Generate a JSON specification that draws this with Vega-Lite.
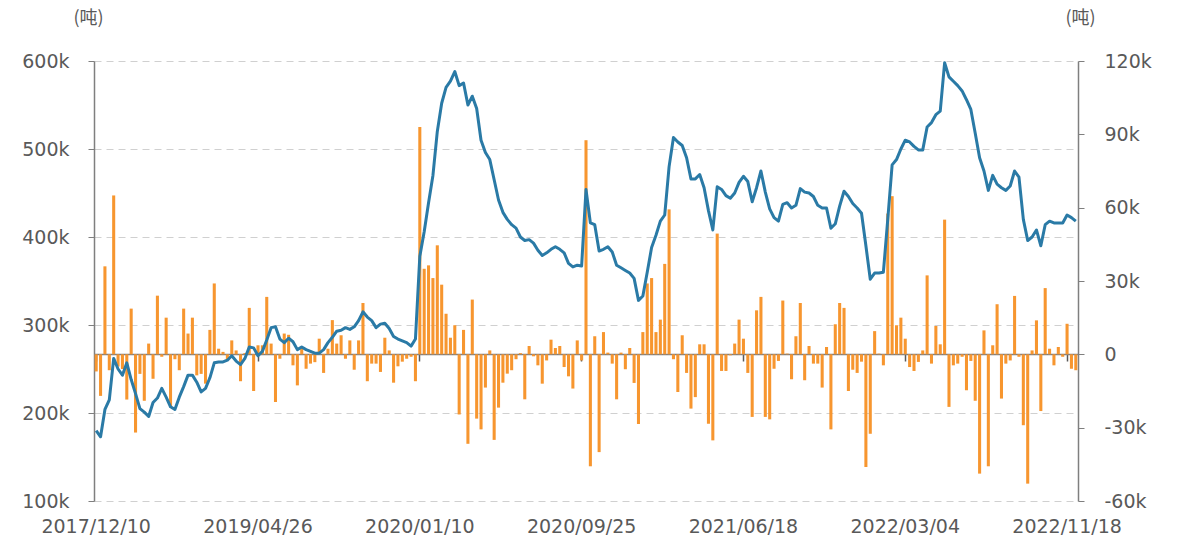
{
"$schema": "https://vega.github.io/schema/vega-lite/v6.json",
"width": 984, "height": 440,
"autosize": {"type": "none"},
"padding": {"left": 94, "top": 61, "right": 100, "bottom": 40},
"background": "white",
"config": {"view": {"stroke": null}, "font": "DejaVu Sans"},
"data": {"values": [
{"d":"2017/12/10","s":180000,"c":-7000},
{"d":"2017/12/24","s":173000,"c":-17000},
{"d":"2018/01/07","s":204000,"c":36000},
{"d":"2018/01/21","s":215000,"c":-6500},
{"d":"2018/02/04","s":262000,"c":65000},
{"d":"2018/02/18","s":250000,"c":-5000},
{"d":"2018/03/04","s":243000,"c":-6000},
{"d":"2018/03/18","s":257000,"c":-18500},
{"d":"2018/04/01","s":238000,"c":18700},
{"d":"2018/04/15","s":222000,"c":-32000},
{"d":"2018/04/29","s":205000,"c":-8000},
{"d":"2018/05/13","s":201000,"c":-19000},
{"d":"2018/05/27","s":196000,"c":4400},
{"d":"2018/06/10","s":212000,"c":-10000},
{"d":"2018/06/24","s":217000,"c":24000},
{"d":"2018/07/08","s":228000,"c":-1000},
{"d":"2018/07/22","s":218000,"c":15000},
{"d":"2018/08/05","s":207000,"c":-21500},
{"d":"2018/08/19","s":204000,"c":-2000},
{"d":"2018/09/02","s":218000,"c":-6500},
{"d":"2018/09/16","s":230000,"c":18700},
{"d":"2018/09/30","s":243000,"c":8500},
{"d":"2018/10/14","s":243000,"c":15000},
{"d":"2018/10/28","s":235000,"c":-8600},
{"d":"2018/11/11","s":224000,"c":-8000},
{"d":"2018/11/25","s":228000,"c":-12000},
{"d":"2018/12/09","s":240000,"c":10000},
{"d":"2018/12/23","s":257000,"c":29000},
{"d":"2019/01/06","s":258000,"c":2300},
{"d":"2019/01/20","s":258000,"c":1000},
{"d":"2019/02/03","s":260000,"c":-2000},
{"d":"2019/02/17","s":265000,"c":5700},
{"d":"2019/03/03","s":259000,"c":1600},
{"d":"2019/03/17","s":255000,"c":-11000},
{"d":"2019/03/31","s":262000,"c":500},
{"d":"2019/04/12","s":275000,"c":19000},
{"d":"2019/04/19","s":274000,"c":-15000},
{"d":"2019/04/26","s":265000,"c":3700},
{"d":"2019/05/03","s":270000,"c":3700},
{"d":"2019/05/10","s":283000,"c":23500},
{"d":"2019/05/17","s":297000,"c":4400},
{"d":"2019/05/24","s":298000,"c":-19500},
{"d":"2019/05/31","s":284000,"c":-1800},
{"d":"2019/06/07","s":280000,"c":8500},
{"d":"2019/06/14","s":285000,"c":8000},
{"d":"2019/06/21","s":281000,"c":-4500},
{"d":"2019/06/28","s":272000,"c":-12700},
{"d":"2019/07/05","s":275000,"c":3000},
{"d":"2019/07/12","s":272000,"c":-5900},
{"d":"2019/07/19","s":270000,"c":-3800},
{"d":"2019/07/26","s":268000,"c":-3200},
{"d":"2019/08/02","s":268000,"c":6400},
{"d":"2019/08/09","s":272000,"c":-7600},
{"d":"2019/08/16","s":280000,"c":2300},
{"d":"2019/08/23","s":286000,"c":14000},
{"d":"2019/08/30","s":293000,"c":4400},
{"d":"2019/09/06","s":294000,"c":7800},
{"d":"2019/09/13","s":297000,"c":-1800},
{"d":"2019/09/20","s":295000,"c":5700},
{"d":"2019/09/27","s":298000,"c":-6300},
{"d":"2019/10/04","s":305000,"c":5700},
{"d":"2019/10/11","s":315000,"c":21000},
{"d":"2019/10/18","s":309000,"c":-11000},
{"d":"2019/10/25","s":305000,"c":-3800},
{"d":"2019/11/01","s":297000,"c":-3800},
{"d":"2019/11/08","s":301000,"c":-7200},
{"d":"2019/11/15","s":302000,"c":6800},
{"d":"2019/11/22","s":296000,"c":1600},
{"d":"2019/11/29","s":287000,"c":-11600},
{"d":"2019/12/06","s":284000,"c":-4900},
{"d":"2019/12/13","s":282000,"c":-3000},
{"d":"2019/12/20","s":280000,"c":-1800},
{"d":"2019/12/27","s":276000,"c":-1000},
{"d":"2020/01/03","s":284000,"c":-11000},
{"d":"2020/01/10","s":378000,"c":93000},
{"d":"2020/01/17","s":406000,"c":35000},
{"d":"2020/01/24","s":439000,"c":36400},
{"d":"2020/01/31","s":470000,"c":31200},
{"d":"2020/02/07","s":520000,"c":44600},
{"d":"2020/02/14","s":552000,"c":28500},
{"d":"2020/02/21","s":570000,"c":16600},
{"d":"2020/02/28","s":577000,"c":6800},
{"d":"2020/03/06","s":588000,"c":11900},
{"d":"2020/03/13","s":572000,"c":-24600},
{"d":"2020/03/20","s":575000,"c":10000},
{"d":"2020/03/27","s":550000,"c":-36600},
{"d":"2020/04/03","s":560000,"c":22400},
{"d":"2020/04/10","s":546000,"c":-26300},
{"d":"2020/04/17","s":510000,"c":-30700},
{"d":"2020/04/24","s":496000,"c":-13600},
{"d":"2020/05/01","s":488000,"c":1600},
{"d":"2020/05/08","s":465000,"c":-35000},
{"d":"2020/05/15","s":442000,"c":-21800},
{"d":"2020/05/22","s":428000,"c":-11600},
{"d":"2020/05/29","s":420000,"c":-7900},
{"d":"2020/06/05","s":414000,"c":-6500},
{"d":"2020/06/12","s":410000,"c":-2000},
{"d":"2020/06/19","s":400000,"c":500},
{"d":"2020/06/26","s":396000,"c":-18400},
{"d":"2020/07/03","s":397000,"c":3400},
{"d":"2020/07/10","s":393000,"c":-800},
{"d":"2020/07/17","s":385000,"c":-4500},
{"d":"2020/07/24","s":379000,"c":-12000},
{"d":"2020/07/31","s":382000,"c":-2500},
{"d":"2020/08/07","s":386000,"c":6000},
{"d":"2020/08/14","s":389000,"c":2600},
{"d":"2020/08/21","s":386000,"c":3400},
{"d":"2020/08/28","s":382000,"c":-5200},
{"d":"2020/09/04","s":370000,"c":-9000},
{"d":"2020/09/11","s":366000,"c":-14000},
{"d":"2020/09/18","s":368000,"c":5700},
{"d":"2020/09/25","s":367000,"c":-2500},
{"d":"2020/10/09","s":454000,"c":87600},
{"d":"2020/10/16","s":416000,"c":-45800},
{"d":"2020/10/23","s":414000,"c":7400},
{"d":"2020/10/30","s":384000,"c":-40000},
{"d":"2020/11/06","s":386000,"c":9100},
{"d":"2020/11/13","s":389000,"c":700},
{"d":"2020/11/20","s":383000,"c":-3800},
{"d":"2020/11/27","s":368000,"c":-18400},
{"d":"2020/12/04","s":365000,"c":700},
{"d":"2020/12/11","s":362000,"c":-6100},
{"d":"2020/12/18","s":359000,"c":2600},
{"d":"2020/12/25","s":353000,"c":-11700},
{"d":"2021/01/01","s":328000,"c":-28500},
{"d":"2021/01/08","s":333000,"c":9100},
{"d":"2021/01/15","s":360000,"c":29000},
{"d":"2021/01/22","s":388000,"c":31200},
{"d":"2021/01/29","s":402000,"c":9100},
{"d":"2021/02/05","s":418000,"c":14200},
{"d":"2021/02/12","s":425000,"c":37000},
{"d":"2021/02/19","s":480000,"c":59300},
{"d":"2021/02/26","s":513000,"c":-2000},
{"d":"2021/03/05","s":508000,"c":-15400},
{"d":"2021/03/12","s":504000,"c":7800},
{"d":"2021/03/19","s":490000,"c":-7600},
{"d":"2021/03/26","s":466000,"c":-22200},
{"d":"2021/04/02","s":466000,"c":-17500},
{"d":"2021/04/09","s":471000,"c":4100},
{"d":"2021/04/16","s":456000,"c":4100},
{"d":"2021/04/23","s":430000,"c":-28400},
{"d":"2021/04/30","s":408000,"c":-35200},
{"d":"2021/05/07","s":457000,"c":49400},
{"d":"2021/05/14","s":454000,"c":-6800},
{"d":"2021/05/21","s":447000,"c":-6800},
{"d":"2021/05/28","s":444000,"c":-400},
{"d":"2021/06/04","s":450000,"c":4400},
{"d":"2021/06/11","s":462000,"c":14200},
{"d":"2021/06/18","s":469000,"c":6400},
{"d":"2021/06/25","s":463000,"c":-7600},
{"d":"2021/07/02","s":440000,"c":-25600},
{"d":"2021/07/09","s":456000,"c":18000},
{"d":"2021/07/16","s":475000,"c":23500},
{"d":"2021/07/23","s":451000,"c":-25600},
{"d":"2021/07/30","s":432000,"c":-26600},
{"d":"2021/08/06","s":422000,"c":-5900},
{"d":"2021/08/13","s":418000,"c":-2700},
{"d":"2021/08/20","s":437000,"c":22000},
{"d":"2021/08/27","s":439000,"c":300},
{"d":"2021/09/03","s":433000,"c":-10200},
{"d":"2021/09/10","s":436000,"c":7400},
{"d":"2021/09/17","s":455000,"c":21000},
{"d":"2021/09/24","s":451000,"c":-10600},
{"d":"2021/10/01","s":450000,"c":3400},
{"d":"2021/10/08","s":446000,"c":-3800},
{"d":"2021/10/15","s":436000,"c":-3800},
{"d":"2021/10/22","s":433000,"c":-13600},
{"d":"2021/10/29","s":433000,"c":3000},
{"d":"2021/11/05","s":410000,"c":-30700},
{"d":"2021/11/12","s":415000,"c":12300},
{"d":"2021/11/19","s":435000,"c":21000},
{"d":"2021/11/26","s":452000,"c":19000},
{"d":"2021/12/03","s":446000,"c":-15000},
{"d":"2021/12/10","s":438000,"c":-6300},
{"d":"2021/12/17","s":433000,"c":-7600},
{"d":"2021/12/24","s":427000,"c":-3000},
{"d":"2021/12/31","s":390000,"c":-46100},
{"d":"2022/01/07","s":352000,"c":-32500},
{"d":"2022/01/14","s":359000,"c":9500},
{"d":"2022/01/21","s":359000,"c":300},
{"d":"2022/01/28","s":360000,"c":-4500},
{"d":"2022/02/04","s":420000,"c":57600},
{"d":"2022/02/11","s":482000,"c":64700},
{"d":"2022/02/18","s":488000,"c":11900},
{"d":"2022/02/25","s":500000,"c":15000},
{"d":"2022/03/04","s":510000,"c":6400},
{"d":"2022/03/11","s":508000,"c":-5200},
{"d":"2022/03/18","s":503000,"c":-6800},
{"d":"2022/03/25","s":499000,"c":-3100},
{"d":"2022/04/01","s":499000,"c":1600},
{"d":"2022/04/08","s":525000,"c":32300},
{"d":"2022/04/15","s":530000,"c":-3800},
{"d":"2022/04/22","s":539000,"c":11600},
{"d":"2022/04/29","s":543000,"c":4100},
{"d":"2022/05/06","s":598000,"c":55100},
{"d":"2022/05/13","s":582000,"c":-21500},
{"d":"2022/05/20","s":577000,"c":-4500},
{"d":"2022/05/27","s":572000,"c":-3800},
{"d":"2022/06/03","s":566000,"c":-1000},
{"d":"2022/06/10","s":556000,"c":-14700},
{"d":"2022/06/17","s":545000,"c":-2700},
{"d":"2022/06/24","s":518000,"c":-19000},
{"d":"2022/07/01","s":490000,"c":-48800},
{"d":"2022/07/08","s":475000,"c":9800},
{"d":"2022/07/15","s":453000,"c":-45800},
{"d":"2022/07/22","s":470000,"c":3700},
{"d":"2022/07/29","s":460000,"c":20500},
{"d":"2022/08/05","s":456000,"c":-18100},
{"d":"2022/08/12","s":453000,"c":-3800},
{"d":"2022/08/19","s":458000,"c":-2500},
{"d":"2022/08/26","s":475000,"c":23900},
{"d":"2022/09/02","s":468000,"c":-1000},
{"d":"2022/09/09","s":420000,"c":-29000},
{"d":"2022/09/16","s":396000,"c":-52900},
{"d":"2022/09/23","s":400000,"c":1600},
{"d":"2022/09/30","s":408000,"c":13900},
{"d":"2022/10/07","s":390000,"c":-23200},
{"d":"2022/10/14","s":414000,"c":27100},
{"d":"2022/10/21","s":418000,"c":2300},
{"d":"2022/10/28","s":416000,"c":-4500},
{"d":"2022/11/04","s":416000,"c":3000},
{"d":"2022/11/11","s":416000,"c":-1000},
{"d":"2022/11/18","s":425000,"c":12500},
{"d":"2022/11/25","s":422000,"c":-5900},
{"d":"2022/12/02","s":418000,"c":-6500}
]},
"layer": [
{"mark": {"type": "bar", "color": "#f7962f", "width": {"band": 0.7}},
 "encoding": {
  "x": {"field": "d", "type": "ordinal", "sort": null,
        "scale": {"type": "band", "paddingInner": 0, "paddingOuter": 0},
        "axis": {"values": ["2017/12/10","2019/04/26","2020/01/10","2020/09/25","2021/06/18","2022/03/04","2022/11/18"],
                 "orient": "bottom", "offset": -147, "labelAngle": 0, "title": null,
                 "domainColor": "#7f7f7f", "domainWidth": 1.5, "tickColor": "#595959", "tickSize": 7, "tickWidth": 1.5,
                 "labelPadding": 156, "labelFontSize": 19, "labelColor": "#595959", "labelFont": "DejaVu Sans"}},
  "y": {"field": "c", "type": "quantitative",
        "scale": {"domain": [-60000, 120000], "nice": false, "zero": false},
        "axis": {"orient": "right", "values": [-60000,-30000,0,30000,60000,90000,120000],
                 "labelExpr": "datum.value == 0 ? '0' : datum.value/1000 + 'k'",
                 "grid": false, "domainColor": "#7f7f7f", "domainWidth": 1.5, "tickColor": "#7f7f7f", "tickSize": 6,
                 "labelFontSize": 19, "labelColor": "#595959", "labelPadding": 20, "labelFont": "DejaVu Sans",
                 "title": "(吨)", "titleAngle": 0, "titleX": 2, "titleY": -43, "titleAlign": "center", "titleBaseline": "middle",
                 "titleFont": "Noto Sans CJK SC", "titleFontSize": 18, "titleFontWeight": "normal", "titleColor": "#595959"}}
 }},
{"mark": {"type": "line", "color": "#2a7aa6", "strokeWidth": 3, "strokeJoin": "round"},
 "encoding": {
  "x": {"field": "d", "type": "ordinal", "sort": null, "scale": {"type": "band", "paddingInner": 0, "paddingOuter": 0}},
  "y": {"field": "s", "type": "quantitative",
        "scale": {"domain": [100000, 600000], "nice": false, "zero": false},
        "axis": {"orient": "left", "values": [100000,200000,300000,400000,500000,600000],
                 "labelExpr": "datum.value/1000 + 'k'",
                 "grid": true, "gridDash": [7, 5], "gridColor": "#d0d0d0", "gridWidth": 1,
                 "domainColor": "#7f7f7f", "domainWidth": 1.5, "tickColor": "#7f7f7f", "tickSize": 6,
                 "labelFontSize": 19, "labelColor": "#595959", "labelPadding": 19, "labelFont": "DejaVu Sans",
                 "title": "(吨)", "titleAngle": 0, "titleX": -6, "titleY": -43, "titleAlign": "center", "titleBaseline": "middle",
                 "titleFont": "Noto Sans CJK SC", "titleFontSize": 18, "titleFontWeight": "normal", "titleColor": "#595959"}}
 }}
],
"resolve": {"scale": {"y": "independent"}}
}
